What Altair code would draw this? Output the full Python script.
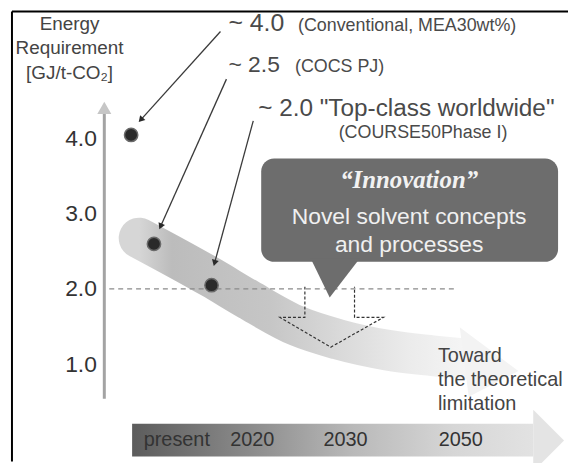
import math
import altair as alt
import pandas as pd

# ---------------- data ----------------
point_labels = ["~ 4.0", "~ 2.5", "~ 2.0"]
point_notes = ["(Conventional, MEA30wt%)", "(COCS PJ)", "\"Top-class worldwide\""]
point_values = [4.05, 2.6, 2.05]          # GJ/t-CO2 as drawn
point_stage = [132, 155, 213]             # horizontal (time-like) position
tick_values = [1.0, 2.0, 3.0, 4.0]
target_value = 2.0
timeline_labels = ["present", "2020", "2030", "2050"]
timeline_pos = [178, 254, 348, 464]
y_title_lines = ["Energy", "Requirement", "[GJ/t-CO\u2082]"]
callout_lines = ["Novel solvent concepts", "and processes"]
toward_lines = ["Toward", "the theoretical", "limitation"]

# ---------------- layout helpers ----------------
W, H = 564, 455
X_DOMAIN = [8, 8 + W]
PX_PER_UNIT = 75.67


def ev(py):
    """vertical page position -> energy units"""
    return 4.0 - (py - 138.0) / PX_PER_UNIT


Y_DOMAIN = [ev(8 + H), ev(8)]
FONT = "Liberation Sans"

YAXIS = alt.Axis(values=tick_values, format=".1f", title=None, domain=False,
                 ticks=False, tickSize=0, grid=False, labelPadding=0, offset=-89,
                 labelFontSize=23, labelColor="#333333", labelFont=FONT)


def X(f="x"):
    return alt.X(f"{f}:Q", scale=alt.Scale(domain=X_DOMAIN, nice=False, zero=False), axis=None)


def Y(f="y"):
    return alt.Y(f"{f}:Q", scale=alt.Scale(domain=Y_DOMAIN, nice=False, zero=False), axis=YAXIS)


layers = []

# frame
frame = pd.DataFrame({"x": [12, 12], "x2": [572, 12], "y": [ev(10), ev(10)], "y2": [ev(10), ev(463)]})
layers.append(alt.Chart(frame).mark_rule(color="black", strokeWidth=2).encode(
    x=X(), x2="x2:Q", y=Y(), y2="y2:Q"))

# curved band
band_x = [140, 155, 213, 250, 300, 340, 390, 440, 470]
band_py = [238, 246, 278, 300, 327, 340, 351, 357, 360]
band = pd.DataFrame({"x": band_x, "y": [ev(v) for v in band_py], "i": list(range(len(band_x)))})
band_grad = alt.Gradient(gradient="linear", x1=0, x2=1, y1=0, y2=0, stops=[
    alt.GradientStop(color="#d6d6d6", offset=0),
    alt.GradientStop(color="#bcbcbc", offset=0.1),
    alt.GradientStop(color="#c6c6c6", offset=0.4),
    alt.GradientStop(color="#dadada", offset=0.62),
    alt.GradientStop(color="#ebebeb", offset=0.82),
    alt.GradientStop(color="#f5f5f5", offset=1)])
layers.append(alt.Chart(band).mark_line(strokeWidth=41, strokeCap="round", interpolate="monotone",
                                        color=band_grad).encode(x=X(), y=Y(), order="i:Q"))
band_head = pd.DataFrame({"x": [463, 472, 522], "y": [ev(328), ev(334.7), ev(372)],
                          "y2": [ev(328), ev(398), ev(372)]})
layers.append(alt.Chart(band_head).mark_area(color="#f3f3f3", orient="vertical").encode(
    x=X(), y=Y(), y2="y2:Q"))

# target dashed line
target = pd.DataFrame({"x": [110], "x2": [460], "y": [target_value]})
layers.append(alt.Chart(target).mark_rule(color="#8a8a8a", strokeWidth=1.3, strokeDash=[5, 4]).encode(
    x=X(), x2="x2:Q", y=Y()))

# dashed block arrow (outline)
blk_x = [307, 307, 282, 333, 386, 357, 357]
blk_py = [287, 318, 318, 348, 318, 318, 287]
blk = pd.DataFrame({"x": blk_x, "y": [ev(v) for v in blk_py], "i": list(range(len(blk_x)))})
layers.append(alt.Chart(blk).mark_line(color="#333333", strokeWidth=1.2, strokeDash=[3, 2]).encode(
    x=X(), y=Y(), order="i:Q"))

# callout box
box = pd.DataFrame({"x": [263], "x2": [562], "y": [ev(158)], "y2": [ev(262)]})
layers.append(alt.Chart(box).mark_rect(color="#6d6d6d", cornerRadius=13).encode(
    x=X(), x2="x2:Q", y=Y(), y2="y2:Q"))
ptr = pd.DataFrame({"x": [313, 332, 362], "y": [ev(259)] * 3, "y2": [ev(259), ev(298), ev(259)]})
layers.append(alt.Chart(ptr).mark_area(color="#6d6d6d", orient="vertical").encode(
    x=X(), y=Y(), y2="y2:Q"))
inno = pd.DataFrame({"x": [412], "y": [ev(180)], "t": ["\u201cInnovation\u201d"]})
layers.append(alt.Chart(inno).mark_text(font="Liberation Serif", fontStyle="italic", fontWeight="bold",
                                        fontSize=25, color="#f2f2f2", align="center", baseline="middle").encode(
    x=X(), y=Y(), text="t:N"))
cl = pd.DataFrame({"x": [412, 412], "y": [ev(217), ev(245)], "t": callout_lines})
layers.append(alt.Chart(cl).mark_text(font=FONT, fontSize=23, color="#f0f0f0", align="center",
                                      baseline="middle").encode(x=X(), y=Y(), text="t:N"))

# y axis arrow
yax = pd.DataFrame({"x": [105], "y": [ev(400)], "y2": [ev(110)]})
layers.append(alt.Chart(yax).mark_rule(color="#a3a3a3", strokeWidth=3).encode(x=X(), y=Y(), y2="y2:Q"))
yhead = pd.DataFrame({"x": [105], "y": [ev(107)]})
layers.append(alt.Chart(yhead).mark_point(shape="triangle-up", filled=True, size=200, color="#c6c6c6",
                                          opacity=1).encode(x=X(), y=Y()))

# annotation arrows to points
arrows = [(222, 30, 139, 122), (228, 78, 160, 230), (255, 120, 215, 267)]
rows, heads = [], []
for (x0, y0, x1, y1) in arrows:
    dx, dy = x1 - x0, y1 - y0
    L = math.hypot(dx, dy)
    hx, hy = x1 - dx / L * 4, y1 - dy / L * 4
    ang = math.degrees(math.atan2(dx, -dy)) % 360
    rows.append({"x": x0, "y": ev(y0), "x2": hx, "y2": ev(hy)})
    heads.append({"x": hx, "y": ev(hy), "a": ang})
layers.append(alt.Chart(pd.DataFrame(rows)).mark_rule(color="#3a3a3a", strokeWidth=1.3).encode(
    x=X(), x2="x2:Q", y=Y(), y2="y2:Q"))
layers.append(alt.Chart(pd.DataFrame(heads)).mark_point(shape="triangle-up", filled=True, size=50,
                                                        color="#2a2a2a", opacity=1).encode(
    x=X(), y=Y(), angle=alt.Angle("a:Q", scale=None)))

# points
pts = pd.DataFrame({"x": point_stage, "y": point_values})
layers.append(alt.Chart(pts).mark_circle(size=180, color="#2a2a2a", opacity=1, stroke="#6a6a6a",
                                         strokeWidth=1.5).encode(x=X(), y=Y()))

# top annotation texts
big = pd.DataFrame({"x": [230, 230, 260], "y": [ev(30), ev(71), ev(115)],
                    "t": [point_labels[0], point_labels[1], point_labels[2] + " " + point_notes[2]],
                    "s": [25, 23, 24.5]})
layers.append(alt.Chart(big).mark_text(font=FONT, color="#4a4a4a", align="left", baseline="alphabetic").encode(
    x=X(), y=Y(), text="t:N", size=alt.Size("s:Q", scale=None)))
small = pd.DataFrame({"x": [300, 297], "y": [ev(30), ev(71)], "t": point_notes[:2], "s": [18, 18]})
layers.append(alt.Chart(small).mark_text(font=FONT, color="#4a4a4a", align="left", baseline="alphabetic").encode(
    x=X(), y=Y(), text="t:N", size=alt.Size("s:Q", scale=None)))
course = pd.DataFrame({"x": [426], "y": [ev(137)], "t": ["(COURSE50Phase I)"]})
layers.append(alt.Chart(course).mark_text(font=FONT, fontSize=18, color="#4a4a4a", align="center",
                                          baseline="alphabetic").encode(x=X(), y=Y(), text="t:N"))

# y title
yt = pd.DataFrame({"x": [70] * 3, "y": [ev(23), ev(47), ev(72)], "t": y_title_lines})
layers.append(alt.Chart(yt).mark_text(font=FONT, fontSize=19, color="#444444", align="center",
                                      baseline="middle").encode(x=X(), y=Y(), text="t:N"))

# toward text
tw = pd.DataFrame({"x": [441] * 3, "y": [ev(357), ev(381), ev(405)], "t": toward_lines})
layers.append(alt.Chart(tw).mark_text(font=FONT, fontSize=20, color="#444444", align="left",
                                      baseline="middle").encode(x=X(), y=Y(), text="t:N"))

# timeline arrow
bar_grad = alt.Gradient(gradient="linear", x1=0, x2=1, y1=0, y2=0, stops=[
    alt.GradientStop(color="#5c5c5c", offset=0),
    alt.GradientStop(color="#8c8c8c", offset=0.3),
    alt.GradientStop(color="#b9b9b9", offset=0.55),
    alt.GradientStop(color="#d6d6d6", offset=0.8),
    alt.GradientStop(color="#e2e2e2", offset=1)])
bar = pd.DataFrame({"x": [133], "x2": [537], "y": [ev(425)], "y2": [ev(458)]})
layers.append(alt.Chart(bar).mark_rect(color=bar_grad).encode(x=X(), x2="x2:Q", y=Y(), y2="y2:Q"))
bhead = pd.DataFrame({"x": [537, 568], "y": [ev(411), ev(442)], "y2": [ev(473), ev(442)]})
layers.append(alt.Chart(bhead).mark_area(color="#e4e4e4", orient="vertical").encode(
    x=X(), y=Y(), y2="y2:Q"))
tl = pd.DataFrame({"x": timeline_pos, "y": [ev(442)] * 4, "t": timeline_labels})
layers.append(alt.Chart(tl).mark_text(font=FONT, fontSize=20, color="#333333", align="center",
                                      baseline="middle").encode(x=X(), y=Y(), text="t:N"))

chart = alt.layer(*layers).properties(
    width=W, height=H, padding=0, autosize=alt.AutoSizeParams(type="none"), background="white"
).configure_view(stroke=None)

chart.save("out.html", embed_options={"renderer": "svg", "actions": False})
